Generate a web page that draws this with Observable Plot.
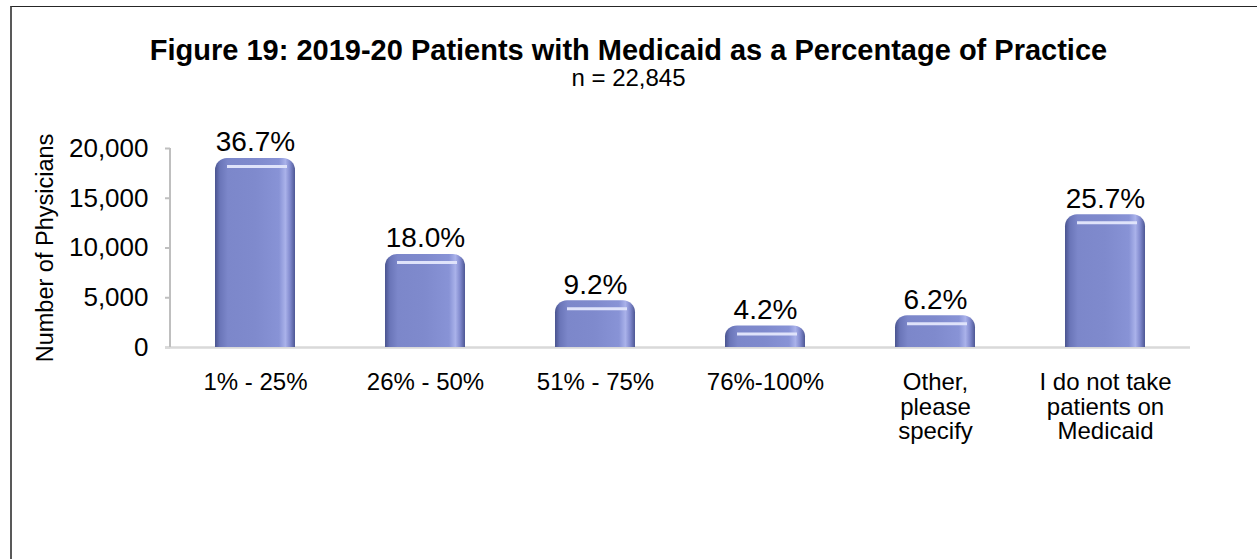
<!DOCTYPE html>
<html>
<head>
<meta charset="utf-8">
<script src="https://cdn.jsdelivr.net/npm/d3@7"></script>
<script src="https://cdn.jsdelivr.net/npm/@observablehq/plot@0.6"></script>
<style>
  html, body { margin: 0; padding: 0; background: #fff; overflow: hidden; }
  body { width: 1257px; height: 559px; position: relative; font-family: "Liberation Sans", Arial, sans-serif; }
  #frame { position: absolute; left: 10px; top: 6px; width: 1300px; height: 600px;
           border-top: 1px solid #262626; border-left: 2px solid #595959; box-sizing: border-box; }
  #title { position: absolute; left: 0; top: 36px; width: 1257px; text-align: center;
           font-size: 29px; font-weight: bold; line-height: 28px; color: #000; }
  #subtitle { position: absolute; left: 0; top: 64px; width: 1257px; text-align: center;
           font-size: 24px; line-height: 28px; color: #000; }
  #chart { position: absolute; left: 0; top: 100px; }
</style>
</head>
<body>
<div id="frame"></div>
<div id="title"></div>
<div id="subtitle"></div>
<div id="chart"></div>
<script>
const titleText = "Figure 19: 2019-20 Patients with Medicaid as a Percentage of Practice";
const subtitleText = "n = 22,845";
const categories = ["1% - 25%", "26% - 50%", "51% - 75%", "76%-100%", "Other,\nplease\nspecify", "I do not take\npatients on\nMedicaid"];
const physicians = [19000, 9350, 4700, 2170, 3180, 13350];
const percentLabels = ["36.7%", "18.0%", "9.2%", "4.2%", "6.2%", "25.7%"];
const yTicks = [0, 5000, 10000, 15000, 20000];
const yLabel = "Number of Physicians";

document.getElementById("title").textContent = titleText;
document.getElementById("subtitle").textContent = subtitleText;

const data = categories.map((c, i) => ({category: c, value: physicians[i], label: percentLabels[i]}));

const chart = Plot.plot({
  width: 1257,
  height: 459,
  marginTop: 48,
  marginBottom: 212,
  marginLeft: 170,
  marginRight: 67,
  style: {fontFamily: "'Liberation Sans', Arial, sans-serif", color: "#000", background: "transparent", overflow: "visible"},
  x: {domain: categories, paddingInner: 0.53, paddingOuter: 0.265},
  y: {domain: [0, 20000]},
  marks: [
    Plot.axisY({ticks: yTicks, tickFormat: d3.format(","), tickSize: 5, tickPadding: 17, stroke: "#bfbfbf", strokeWidth: 2, fontSize: 26, fill: "#000", label: null}),
    Plot.axisX({tickSize: 0, tickPadding: 25, fontSize: 24, lineHeight: 1.03, fill: "#000", label: null}),
    Plot.ruleY([0], {stroke: "#d9d9d9", strokeWidth: 2.5, insetLeft: -5}),
    Plot.text([yLabel], {frameAnchor: "left", textAnchor: "middle", rotate: -90, dx: -125, fontSize: 23.5, fill: "#000"}),
    Plot.barY(data, {x: "category", y: "value", fill: "url(#barGrad)", rx: 12, style: "filter: drop-shadow(0px 0px 1.5px rgba(0,0,0,0.35))"}),
    Plot.barY(data, {x: "category", y: d => d.value * 0.5, fill: "url(#barGrad)"}),
    Plot.tickY(data, {x: "category", y: "value", dy: 8, stroke: "#dfe3fa", strokeWidth: 3, insetLeft: 12, insetRight: 8}),
    Plot.text(data, {x: "category", y: "value", text: "label", lineAnchor: "bottom", dy: -7, fontSize: 28, fill: "#000"})
  ]
});

const svg = d3.select(chart);
svg.insert("defs", ":first-child").html(`
  <linearGradient id="barGrad" x1="0" y1="0" x2="1" y2="0">
    <stop offset="0" stop-color="#4a548f"/>
    <stop offset="0.06" stop-color="#6a75b8"/>
    <stop offset="0.16" stop-color="#7c87ca"/>
    <stop offset="0.5" stop-color="#7f8acd"/>
    <stop offset="0.8" stop-color="#8893d6"/>
    <stop offset="0.88" stop-color="#aab2ea"/>
    <stop offset="0.94" stop-color="#8089cd"/>
    <stop offset="1" stop-color="#4d5794"/>
  </linearGradient>`);

// vertical axis line drawn from the library's own y scale
const yS = chart.scale("y");
svg.append("line")
  .attr("x1", 170).attr("x2", 170)
  .attr("y1", yS.apply(yTicks[yTicks.length - 1]))
  .attr("y2", yS.apply(yTicks[0]))
  .attr("stroke", "#bfbfbf").attr("stroke-width", 2);

document.getElementById("chart").appendChild(chart);
</script>
</body>
</html>
